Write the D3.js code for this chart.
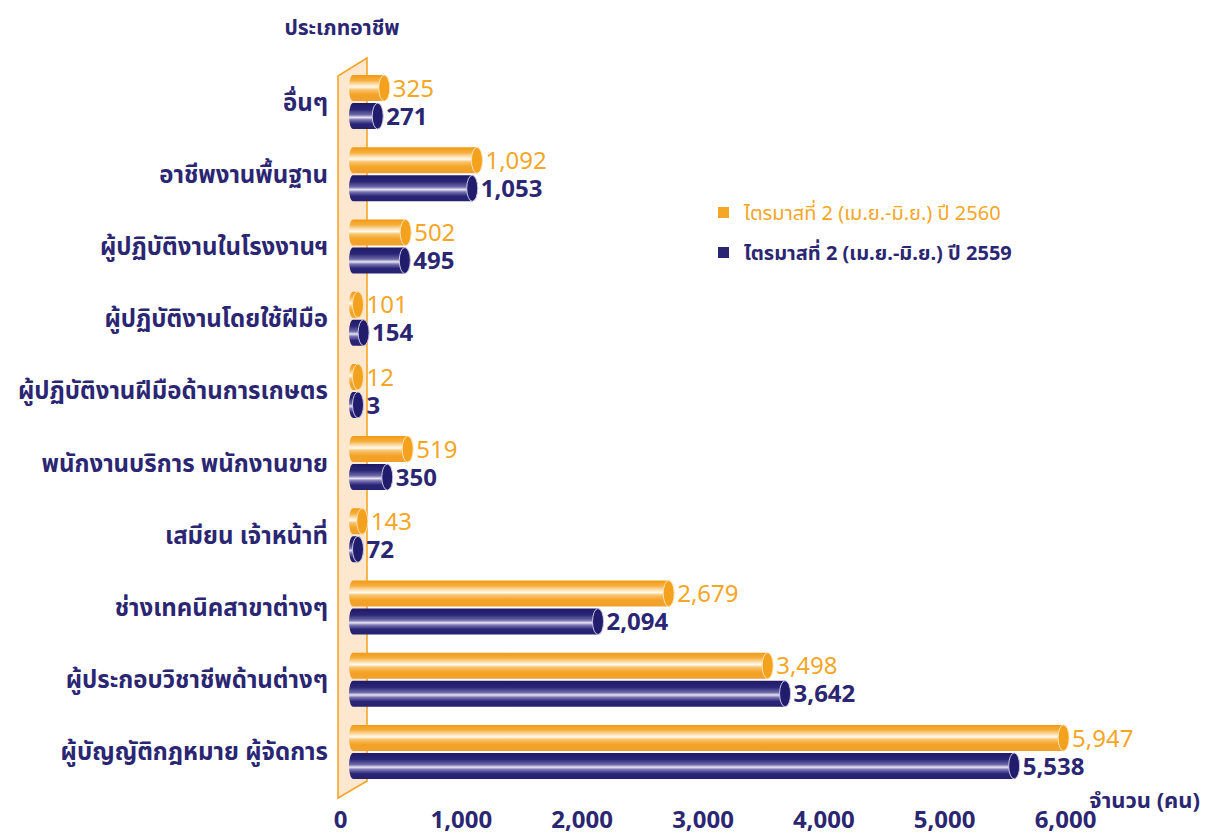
<!DOCTYPE html>
<html>
<head>
<meta charset="utf-8">
<script src="https://cdn.jsdelivr.net/npm/d3@7"></script>
<style>
  body { margin: 0; background: #fff; }
  text { font-family: "Noto Sans Thai", "Noto Sans", "Open Sans", sans-serif; }
</style>
</head>
<body>
<div id="chart"></div>
<script>
const width = 1206;
const height = 840;

const navy = "#2b2672";
const orange = "#f5a627";

// data
const categories = ["อื่นๆ", "อาชีพงานพื้นฐาน", "ผู้ปฏิบัติงานในโรงงานฯ", "ผู้ปฏิบัติงานโดยใช้ฝีมือ",
  "ผู้ปฏิบัติงานฝีมือด้านการเกษตร", "พนักงานบริการ พนักงานขาย", "เสมียน เจ้าหน้าที่",
  "ช่างเทคนิคสาขาต่างๆ", "ผู้ประกอบวิชาชีพด้านต่างๆ", "ผู้บัญญัติกฎหมาย ผู้จัดการ"];
const values2560 = [325, 1092, 502, 101, 12, 519, 143, 2679, 3498, 5947];
const values2559 = [271, 1053, 495, 154, 3, 350, 72, 2094, 3642, 5538];
const seriesNames = ["ไตรมาสที่ 2 (เม.ย.-มิ.ย.) ปี 2560", "ไตรมาสที่ 2 (เม.ย.-มิ.ย.) ปี 2559"];
const tickValues = [0, 1000, 2000, 3000, 4000, 5000, 6000];

const series = [
  { name: seriesNames[0], values: values2560, color: orange, grad: "gradOrange", cap: "#f4a21e", capEdge: "#fde2b4", off: -27 },
  { name: seriesNames[1], values: values2559, color: navy, grad: "gradNavy", cap: "#221c6c", capEdge: "#c9c6e6", off: 1 }
];

const svg = d3.select("#chart").append("svg")
    .attr("width", width)
    .attr("height", height);

const defs = svg.append("defs");

function cylinderGradient(id, stops) {
  const g = defs.append("linearGradient")
      .attr("id", id)
      .attr("x1", 0).attr("y1", 0).attr("x2", 0).attr("y2", 1);
  stops.forEach(function(s) {
    g.append("stop").attr("offset", s[0]).attr("stop-color", s[1]);
  });
}
cylinderGradient("gradOrange", [
  [0, "#f29a12"], [0.2, "#f6ae3c"], [0.38, "#fde6bf"], [0.46, "#fffaf0"],
  [0.56, "#f9c46e"], [0.75, "#f4a325"], [1, "#f0a030"]
]);
cylinderGradient("gradNavy", [
  [0, "#1f1a66"], [0.25, "#2b2778"], [0.45, "#6f6aa8"], [0.55, "#e8e6f4"],
  [0.64, "#7a76b2"], [0.8, "#2a2576"], [1, "#26216f"]
]);

const x = d3.scaleLinear()
    .domain([0, 6000])
    .range([345, 1070]);

const y = d3.scaleBand()
    .domain(categories)
    .range([66, 788]);

const barH = 26;
const barLeft = 349;
const capRx = 5.5;

// back wall
const wall = [[338, 76], [367, 58], [367, 781], [338, 798]];
svg.append("path")
    .attr("d", "M" + wall.join("L") + "Z")
    .attr("fill", "#fde8cf")
    .attr("stroke", orange)
    .attr("stroke-width", 1.6);

// title
svg.append("text")
    .attr("x", 342)
    .attr("y", 35)
    .attr("text-anchor", "middle")
    .attr("fill", navy)
    .attr("font-size", 21)
    .attr("font-weight", "bold")
    .text("ประเภทอาชีพ");

// category labels
svg.selectAll(".cat")
    .data(categories)
    .enter()
    .append("text")
    .attr("class", "cat")
    .attr("x", 328)
    .attr("y", function(d) { return y(d) + y.bandwidth() / 2; })
    .attr("dy", "0.35em")
    .attr("text-anchor", "end")
    .attr("fill", navy)
    .attr("font-size", 24)
    .attr("font-weight", "bold")
    .text(function(d) { return d; });

// bars as cylinders
series.forEach(function(s) {
  const g = svg.append("g");
  const rows = g.selectAll("g")
      .data(s.values.map(function(v, i) { return { cat: categories[i], v: v }; }))
      .enter()
      .append("g")
      .attr("transform", function(d) {
        return "translate(0," + (y(d.cat) + y.bandwidth() / 2 + s.off) + ")";
      });

  const capX = function(d) { return Math.max(x(d.v), barLeft + 9); };

  rows.append("path")
      .attr("d", function(d) {
        const cx = capX(d);
        const r = barH / 2;
        return "M" + cx + ",0" +
          "L" + (barLeft + 4) + ",0" +
          "A4," + r + " 0 0 0 " + (barLeft + 4) + "," + barH +
          "L" + cx + "," + barH + "Z";
      })
      .attr("fill", "url(#" + s.grad + ")");

  rows.append("ellipse")
      .attr("cx", capX)
      .attr("cy", barH / 2)
      .attr("rx", capRx)
      .attr("ry", barH / 2)
      .attr("fill", s.cap)
      .attr("stroke", s.capEdge)
      .attr("stroke-width", 1);

  rows.append("text")
      .attr("x", function(d) { return capX(d) + capRx + 3; })
      .attr("y", barH / 2)
      .attr("dy", "0.36em")
      .attr("fill", s.color)
      .attr("font-size", 24)
      .attr("font-weight", s.color === navy ? "bold" : "normal")
      .text(function(d) { return d3.format(",")(d.v); });
});

// legend
const legend = svg.append("g")
    .selectAll("g")
    .data(series)
    .enter()
    .append("g")
    .attr("transform", function(d, i) { return "translate(718," + (213 + i * 40) + ")"; });

legend.append("rect")
    .attr("x", 0)
    .attr("y", -6)
    .attr("width", 11)
    .attr("height", 11)
    .attr("fill", function(d) { return d.color; });

legend.append("text")
    .attr("x", 26)
    .attr("y", 0)
    .attr("dy", "0.35em")
    .attr("fill", function(d) { return d.color; })
    .attr("font-size", 20)
    .attr("font-weight", function(d) { return d.color === navy ? "bold" : "normal"; })
    .text(function(d) { return d.name; });

// x axis
const xaxis = d3.axisBottom(x)
    .tickValues(tickValues)
    .tickFormat(d3.format(","))
    .tickSize(0);

const ax = svg.append("g")
    .attr("transform", "translate(-5,808)")
    .call(xaxis);
ax.select(".domain").remove();
ax.selectAll("text")
    .attr("fill", navy)
    .attr("font-size", 24)
    .attr("font-weight", "bold")
    .style("font-family", "\"Noto Sans Thai\", \"Noto Sans\", sans-serif");

svg.append("text")
    .attr("x", 1200)
    .attr("y", 808)
    .attr("text-anchor", "end")
    .attr("fill", navy)
    .attr("font-size", 22)
    .attr("font-weight", "bold")
    .text("จำนวน (คน)");
</script>
</body>
</html>
